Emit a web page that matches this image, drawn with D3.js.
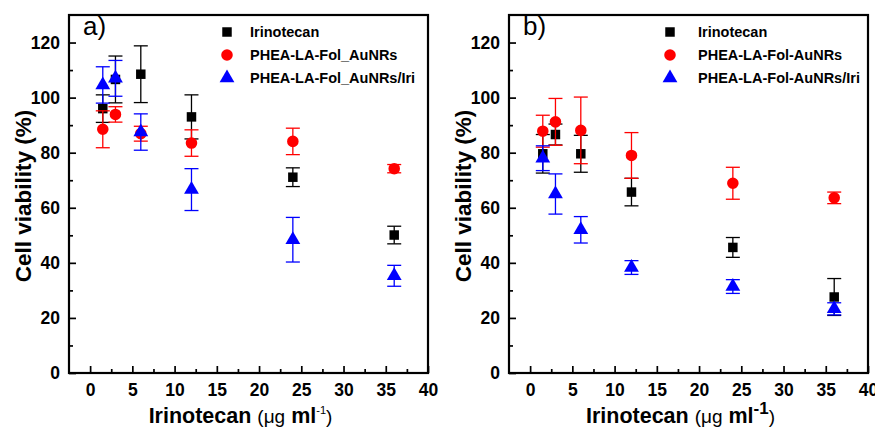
<!DOCTYPE html>
<html>
<head>
<meta charset="utf-8">
<script src="https://cdn.jsdelivr.net/npm/d3@7"></script>
<style>
  body { margin: 0; background: #fff; }
  svg { font-family: "Liberation Sans", Arial, sans-serif; }
</style>
</head>
<body>
<svg width="875" height="428"></svg>
<script>
// doses (x)
var doses = [1.5, 3, 6, 12, 24, 36];

// panel a
var irinoA = [96.0, 106.6, 108.5, 93.0, 71.1, 50.1];
var irinoAErr = [5.0, 8.5, 10.3, 8.0, 3.4, 3.2];
var nrA = [88.5, 93.9, 86.9, 83.5, 84.1, 74.2];
var nrAErr = [6.7, 2.8, 2.7, 4.8, 4.8, 1.5];
var iriA = [104.6, 107.0, 87.5, 66.6, 48.4, 35.3];
var iriAErr = [6.6, 6.5, 6.6, 7.6, 8.1, 3.8];

// panel b
var irinoB = [79.6, 86.6, 79.6, 65.7, 45.6, 27.6];
var irinoBErr = [7.0, 3.8, 6.7, 5.0, 3.6, 6.7];
var nrB = [87.8, 91.2, 88.1, 79.0, 68.9, 63.6];
var nrBErr = [5.8, 8.5, 12.1, 8.3, 5.8, 2.1];
var iriB = [78.0, 65.0, 52.0, 38.3, 31.4, 23.3];
var iriBErr = [4.5, 7.3, 4.8, 2.5, 2.5, 2.2];

var legendA = ["Irinotecan", "PHEA-LA-Fol_AuNRs", "PHEA-LA-Fol_AuNRs/Iri"];
var legendB = ["Irinotecan", "PHEA-LA-Fol-AuNRs", "PHEA-LA-Fol-AuNRs/Iri"];

var xTicks = [0, 5, 10, 15, 20, 25, 30, 35, 40];
var yTicks = [0, 20, 40, 60, 80, 100, 120];

var colors = ["#000000", "#ff0000", "#0000ff"];
var shapes = [d3.symbolSquare, d3.symbolCircle, d3.symbolTriangle];
var sizes = [90, 105, 95];

var svg = d3.select("svg");

function drawPanel(left, label, legend, series, errs, bigSup) {
    var w = 359, h = 358, top = 15;
    var g = svg.append("g").attr("transform", "translate(" + left + "," + top + ")");
    var x = d3.scaleLinear().domain([-2.5, 40]).range([0, w]);
    var y = d3.scaleLinear().domain([0, 130]).range([h, 0]);

    // minor ticks
    var xMinor = d3.range(2.5, 40, 5);
    var yMinor = d3.range(10, 130, 20);
    g.append("g").attr("transform", "translate(0," + h + ")")
        .call(d3.axisBottom(x).tickValues(xMinor).tickSize(-4).tickFormat(""))
        .call(function(s) { s.select(".domain").remove(); });
    g.append("g")
        .call(d3.axisLeft(y).tickValues(yMinor).tickSize(-4).tickFormat(""))
        .call(function(s) { s.select(".domain").remove(); });

    // major ticks
    var xa = g.append("g").attr("transform", "translate(0," + h + ")")
        .call(d3.axisBottom(x).tickValues(xTicks).tickSize(-7).tickPadding(11));
    var ya = g.append("g")
        .call(d3.axisLeft(y).tickValues(yTicks).tickSize(-7).tickPadding(9));
    [xa, ya].forEach(function(a) {
        a.select(".domain").remove();
        a.selectAll("text").attr("font-size", 17.5).attr("font-weight", "bold")
            .attr("fill", "#000").attr("font-family", "Liberation Sans, Arial, sans-serif");
    });
    g.selectAll(".tick line").attr("stroke", "#000").attr("stroke-width", 1.7);

    // frame
    g.append("rect").attr("width", w).attr("height", h)
        .attr("fill", "none").attr("stroke", "#000").attr("stroke-width", 2.2);

    // error bars and markers
    series.forEach(function(vals, si) {
        var c = colors[si];
        var eg = g.append("g").attr("stroke", c).attr("stroke-width", 1.3).attr("fill", "none");
        vals.forEach(function(v, i) {
            var cx = x(doses[i]), e = errs[si][i];
            eg.append("line").attr("x1", cx).attr("x2", cx).attr("y1", y(v + e)).attr("y2", y(v - e));
            eg.append("line").attr("x1", cx - 7).attr("x2", cx + 7).attr("y1", y(v + e)).attr("y2", y(v + e));
            eg.append("line").attr("x1", cx - 7).attr("x2", cx + 7).attr("y1", y(v - e)).attr("y2", y(v - e));
        });
        g.append("g").selectAll("path").data(vals).enter().append("path")
            .attr("d", d3.symbol().type(shapes[si]).size(sizes[si]))
            .attr("transform", function(d, i) { return "translate(" + x(doses[i]) + "," + y(d) + ")"; })
            .attr("fill", c);
    });

    // legend
    var mx = bigSup ? 161 : 158, tx = bigSup ? 189 : 181;
    legend.forEach(function(t, i) {
        var ly = 17 + i * 23;
        g.append("path").attr("d", d3.symbol().type(shapes[i]).size(sizes[i]))
            .attr("transform", "translate(" + mx + "," + ly + ")")
            .attr("fill", colors[i]);
        g.append("text").attr("x", tx).attr("y", ly + 5)
            .attr("font-size", 14.5).attr("font-weight", "bold").text(t);
    });

    // panel label
    g.append("text").attr("x", 14).attr("y", 20).attr("font-size", 26).text(label);

    // axis titles
    g.append("text").attr("transform", "translate(-38," + (h / 2 + 2) + ") rotate(-90)")
        .attr("text-anchor", "middle").attr("font-size", 22.5).attr("font-weight", "bold")
        .text("Cell viability (%)");
    var xt = g.append("text").attr("x", w / 2 - 8).attr("y", h + 50)
        .attr("text-anchor", "middle").attr("font-size", 21.5).attr("font-weight", "bold");
    xt.append("tspan").text("Irinotecan ");
    xt.append("tspan").attr("font-weight", "normal").attr("font-size", 19).text("(\u03bcg");
    xt.append("tspan").text(" ml");
    if (bigSup) {
        xt.append("tspan").attr("font-size", 17).attr("dy", -9).text("-1");
        xt.append("tspan").attr("dy", 9).attr("font-weight", "normal").attr("font-size", 19).text(")");
    } else {
        xt.append("tspan").attr("font-size", 11).attr("font-weight", "normal").attr("dy", -9).text("-1");
        xt.append("tspan").attr("dy", 9).attr("font-weight", "normal").attr("font-size", 19).text(")");
    }
}

drawPanel(69, "a)", legendA, [irinoA, nrA, iriA], [irinoAErr, nrAErr, iriAErr], false);
drawPanel(509, "b)", legendB, [irinoB, nrB, iriB], [irinoBErr, nrBErr, iriBErr], true);
</script>
</body>
</html>
